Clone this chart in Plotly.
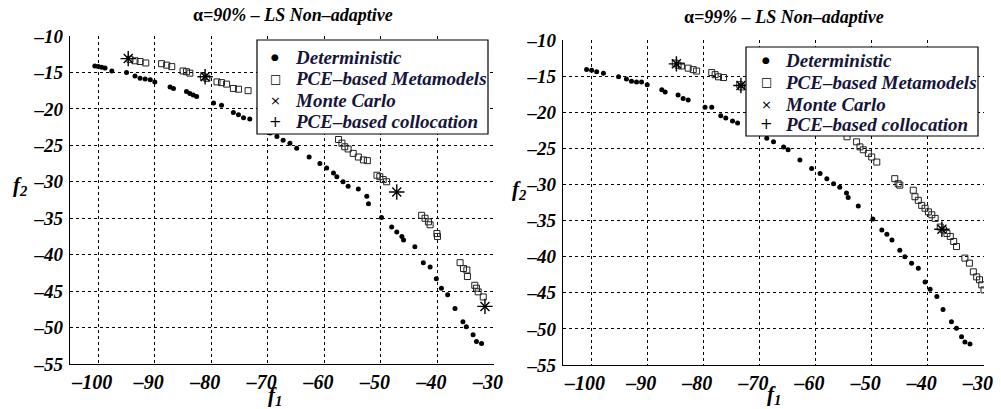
import plotly.graph_objects as go

# ---------------- data ----------------
# Left panel: alpha = 90%
L_det_f1 = [-100.6,-100.0,-99.4,-98.8,-97.6,-95.0,-93.5,-92.6,-91.7,-90.8,-90.0,-87.3,-86.7,-84.4,-83.8,-83.2,-82.6,
            -79.6,-78.2,-76.1,-75.2,-74.3,-73.2,-70.8,-69.6,-68.4,-67.3,-66.1,-64.9,-62.7,-60.8,-59.6,-58.4,-57.8,
            -56.7,-55.8,-54.0,-52.5,-52.2,-49.9,-48.1,-47.2,-46.3,-46.0,-44.0,-42.5,-41.3,-40.2,-39.3,-38.2,-36.9,
            -35.5,-34.9,-33.7,-33.1,-32.2]
L_det_f2 = [-14.1,-14.2,-14.3,-14.4,-14.8,-15.0,-15.5,-15.8,-15.9,-16.0,-16.3,-17.0,-17.2,-17.6,-17.9,-18.1,-18.3,
            -19.2,-19.5,-20.5,-20.8,-21.2,-21.4,-22.9,-23.3,-23.8,-24.3,-24.7,-25.4,-26.6,-27.5,-28.1,-28.8,-29.3,
            -30.0,-30.6,-31.0,-32.0,-33.0,-34.9,-36.2,-36.9,-37.5,-38.0,-38.9,-41.1,-41.7,-43.3,-44.6,-45.5,-47.4,
            -49.2,-49.9,-51.0,-51.9,-52.2]
L_pce_f1 = [-94.4,-93.5,-92.6,-91.6,-88.8,-87.9,-87.0,-85.0,-84.4,-83.8,-81.4,-80.8,-79.0,-78.2,-77.3,-76.1,-75.2,-73.5,
            -57.5,-56.9,-56.4,-55.8,-54.9,-54.0,-53.1,-52.4,-50.7,-50.2,-49.6,-49.0,-42.8,-42.2,-41.6,-41.3,-40.1,
            -40.0,-36.0,-35.4,-34.8,-34.7,-33.4,-33.1,-32.8,-31.9]
L_pce_f2 = [-13.2,-13.4,-13.5,-13.7,-13.8,-14.0,-14.2,-14.8,-14.9,-15.1,-15.6,-15.8,-16.3,-16.4,-16.6,-17.2,-17.3,-17.5,
            -24.2,-24.7,-25.2,-25.5,-26.1,-26.6,-27.0,-27.1,-29.1,-29.3,-29.7,-30.0,-34.6,-35.0,-35.5,-35.9,-37.1,
            -37.5,-41.1,-41.9,-42.1,-43.0,-44.2,-44.6,-45.1,-45.8]
L_mc_f1 = [-94.7,-81.1,-47.2,-31.6]
L_mc_f2 = [-13.1,-15.6,-31.4,-47.1]
L_col_f1 = [-94.7,-81.1,-47.2,-31.6]
L_col_f2 = [-13.1,-15.6,-31.4,-47.1]

# Right panel: alpha = 99%
R_det_f1 = [-100.8,-99.9,-99.0,-97.8,-95.1,-93.7,-92.8,-91.9,-91.0,-90.0,-87.4,-86.8,-84.5,-83.6,-82.7,-79.7,-78.5,
            -76.9,-76.0,-74.8,-73.9,-68.7,-67.5,-65.7,-64.9,-62.8,-60.7,-59.2,-58.0,-56.8,-55.7,-54.5,-54.2,-52.4,
            -49.8,-48.2,-47.3,-46.4,-45.0,-44.1,-42.9,-41.7,-40.5,-39.6,-38.4,-37.3,-35.8,-34.9,-34.0,-33.4,-32.5]
R_det_f2 = [-14.1,-14.2,-14.4,-14.6,-15.1,-15.4,-15.7,-15.8,-15.8,-16.2,-16.9,-17.2,-17.6,-18.1,-18.3,-19.3,-19.3,
            -20.5,-20.8,-21.2,-21.5,-23.6,-24.1,-24.8,-25.2,-26.6,-27.8,-28.5,-29.2,-29.9,-30.4,-31.2,-31.8,-33.0,
            -34.8,-36.3,-36.9,-37.7,-39.1,-40.0,-40.9,-41.6,-43.5,-44.5,-45.5,-47.3,-49.0,-49.9,-51.1,-51.8,-52.1]
R_pce_f1 = [-85.0,-84.5,-83.9,-82.7,-81.8,-81.2,-78.5,-77.9,-77.3,-76.4,-73.5,-73.2,-54.4,-52.7,-52.1,-51.5,-50.6,
            -50.0,-49.1,-45.9,-45.3,-45.0,-42.6,-42.3,-41.7,-41.1,-40.5,-39.9,-39.3,-38.7,-37.8,-37.2,-36.6,-36.0,
            -35.4,-34.9,-33.4,-32.6,-31.9,-31.3,-30.8,-30.4,-30.0]
R_pce_f2 = [-13.2,-13.5,-13.6,-13.9,-14.1,-14.3,-14.5,-14.8,-15.1,-15.2,-16.2,-16.5,-23.4,-24.1,-24.8,-25.2,-25.7,
            -26.2,-26.9,-29.2,-29.9,-30.1,-30.8,-31.7,-32.2,-32.9,-33.3,-33.8,-34.2,-34.7,-35.9,-36.3,-36.8,-37.2,
            -37.9,-38.6,-40.2,-40.9,-42.1,-42.8,-43.2,-43.9,-44.6]
R_mc_f1 = [-84.8,-73.3,-37.5]
R_mc_f2 = [-13.3,-16.3,-36.2]
R_col_f1 = [-84.8,-73.3,-37.5]
R_col_f2 = [-13.3,-16.3,-36.2]

x_ticks = [-100, -90, -80, -70, -60, -50, -40, -30]
y_ticks = [-10, -15, -20, -25, -30, -35, -40, -45, -50, -55]
titles = ["α<i>=90% – LS Non–adaptive</i>", "α<i>=99% – LS Non–adaptive</i>"]
names = ["Deterministic", "PCE–based Metamodels", "Monte Carlo", "PCE–based collocation"]
legend_glyphs = ["●", "□", "×", "+"]

FONT = "Liberation Serif"
W, H = 1001, 409


def tick_text(vals):
    return ["<b><i>–%d</i></b>" % abs(v) for v in vals]


fig = go.Figure()

panels = [
    (L_det_f1, L_det_f2, L_pce_f1, L_pce_f2, L_mc_f1, L_mc_f2, L_col_f1, L_col_f2, "x", "y"),
    (R_det_f1, R_det_f2, R_pce_f1, R_pce_f2, R_mc_f1, R_mc_f2, R_col_f1, R_col_f2, "x2", "y2"),
]
for (df1, df2, pf1, pf2, mf1, mf2, cf1, cf2, xa, ya) in panels:
    fig.add_trace(go.Scatter(x=df1, y=df2, mode="markers", name=names[0], xaxis=xa, yaxis=ya,
                             marker=dict(symbol="circle", size=5, color="black")))
    fig.add_trace(go.Scatter(x=pf1, y=pf2, mode="markers", name=names[1], xaxis=xa, yaxis=ya,
                             marker=dict(symbol="square-open", size=6, color="#222", line=dict(width=1))))
    fig.add_trace(go.Scatter(x=mf1, y=mf2, mode="markers", name=names[2], xaxis=xa, yaxis=ya,
                             marker=dict(symbol="x-thin-open", size=9, color="black", line=dict(width=1.4))))
    fig.add_trace(go.Scatter(x=cf1, y=cf2, mode="markers", name=names[3], xaxis=xa, yaxis=ya,
                             marker=dict(symbol="cross-thin-open", size=11, color="black", line=dict(width=1.4))))

axis_common = dict(
    showgrid=True, gridcolor="black", griddash="dot", gridwidth=1,
    showline=True, linecolor="black", linewidth=1.2, mirror=False,
    ticks="", zeroline=False, automargin=False,
)
xfont = dict(family=FONT, size=20, color="black", weight="bold", style="italic")
yfont = dict(family=FONT, size=19, color="black", weight="bold", style="italic")

left_x = [70 / W, 494 / W]
right_x = [563 / W, 984 / W]
left_y = [1 - 364 / H, 1 - 36 / H]
right_y = [1 - 365 / H, 1 - 40 / H]

fig.update_layout(
    width=W, height=H, autosize=False, margin=dict(l=0, r=0, t=0, b=0, pad=0),
    paper_bgcolor="white", plot_bgcolor="white",
    showlegend=False,
    xaxis=dict(domain=left_x, range=[-105, -30], tickvals=x_ticks, ticktext=tick_text(x_ticks),
               anchor="y", tickfont=xfont, ticklabelshift=-6, **axis_common),
    yaxis=dict(domain=left_y, range=[-55, -10], tickvals=y_ticks, ticktext=tick_text(y_ticks),
               anchor="x", tickfont=yfont, ticklabelstandoff=2, **axis_common),
    xaxis2=dict(domain=right_x, range=[-105, -30], tickvals=x_ticks, ticktext=tick_text(x_ticks),
                anchor="y2", tickfont=xfont, ticklabelshift=-6, **axis_common),
    yaxis2=dict(domain=right_y, range=[-55, -10], tickvals=y_ticks, ticktext=tick_text(y_ticks),
                anchor="x2", tickfont=yfont, ticklabelstandoff=2, **axis_common),
)

# legend boxes (drawn as shapes + text so their size matches the original)
legend_boxes = [
    dict(x0=257, x1=488, y0=40, y1=134, mx=275, tx=293, rows=[57, 79, 101, 122]),
    dict(x0=746, x1=978, y0=47, y1=136, mx=766, tx=783, rows=[60, 82, 104, 124]),
]
glyph_sizes = [9, 12, 13, 15]
for lb in legend_boxes:
    fig.add_shape(type="rect", xref="paper", yref="paper", layer="above",
                  x0=lb["x0"] / W, x1=lb["x1"] / W, y0=1 - lb["y1"] / H, y1=1 - lb["y0"] / H,
                  fillcolor="white", line=dict(color="black", width=1.2))
    for i, (nm, gl) in enumerate(zip(names, legend_glyphs)):
        yy = 1 - lb["rows"][i] / H
        fig.add_annotation(text=gl, x=lb["mx"] / W, y=yy, xref="paper", yref="paper", showarrow=False,
                           font=dict(family="DejaVu Sans", size=glyph_sizes[i], color="black"),
                           xanchor="center", yanchor="middle")
        fig.add_annotation(text="<b><i>%s</i></b>" % nm, x=lb["tx"] / W, y=yy, xref="paper", yref="paper",
                           showarrow=False, font=dict(family=FONT, size=19, color="#15153a"),
                           xanchor="left", yanchor="middle")

ann_font = dict(family=FONT, size=18, color="black")
lab_font = dict(family=FONT, size=21, color="black")
fig.add_annotation(text="<b>%s</b>" % titles[0], x=293 / W, y=1 - 15 / H, xref="paper", yref="paper",
                   showarrow=False, font=ann_font, xanchor="center", yanchor="middle")
fig.add_annotation(text="<b>%s</b>" % titles[1], x=784 / W, y=1 - 17 / H, xref="paper", yref="paper",
                   showarrow=False, font=ann_font, xanchor="center", yanchor="middle")
for (tx, x, y) in [("f<sub>1</sub>", 275, 396), ("f<sub>1</sub>", 774, 395),
                   ("f<sub>2</sub>", 20, 186), ("f<sub>2</sub>", 519, 190)]:
    fig.add_annotation(text="<b><i>%s</i></b>" % tx, x=x / W, y=1 - y / H, xref="paper", yref="paper",
                       showarrow=False, font=lab_font, xanchor="center", yanchor="middle")

post = ("document.body.style.margin='0';document.body.style.padding='0';"
        "document.body.style.overflow='hidden';"
        "var gd=document.getElementById('{plot_id}');"
        "Plotly.relayout(gd,{width:%d,height:%d});" % (W, H))

fig.write_html("out.html", post_script=post, config={"responsive": False, "displayModeBar": False})
